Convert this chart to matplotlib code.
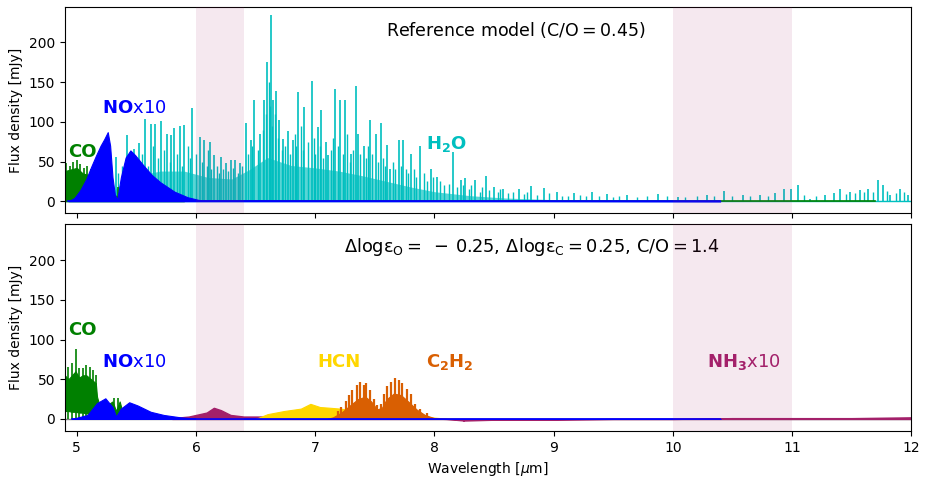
import numpy as np
import matplotlib.pyplot as plt

# színek
c_h2o = "c"
c_co = "g"
c_no = "b"
c_hcn = "gold"
c_c2h2 = "#d95f02"
c_nh3 = "#a3206a"

# ---- felső panel: referencia modell ----
# erős H2O vonalak (hullámhossz [um], csúcs [mJy])
h2o_wl = [5.33, 5.42, 5.48, 5.52, 5.57, 5.62, 5.66, 5.71, 5.76, 5.79, 5.82, 5.87, 5.90,
          5.97, 6.03, 6.07, 6.12, 6.15, 6.21, 6.25, 6.29, 6.33, 6.37, 6.42, 6.46, 6.49,
          6.54, 6.57, 6.60, 6.63, 6.65, 6.67, 6.70, 6.73, 6.77, 6.81, 6.86, 6.91, 6.97,
          7.02, 7.05, 7.09, 7.11, 7.17, 7.21, 7.25, 7.30, 7.34, 7.36, 7.41, 7.46, 7.51,
          7.55, 7.60, 7.63, 7.70, 7.74, 7.80, 7.88, 7.97, 8.02, 8.16, 8.22, 8.26,
          8.34, 8.43, 8.50, 8.58, 8.71, 8.81, 8.92, 9.03, 9.17, 9.32, 9.45, 9.62,
          9.88, 10.04, 10.29, 10.43, 10.59, 10.73, 10.86, 10.93, 10.99, 11.05, 11.15,
          11.28, 11.35, 11.40, 11.49, 11.57, 11.64, 11.72, 11.76, 11.82, 11.91, 11.97]
h2o_flux = [56, 84, 66, 73, 103, 97, 97, 101, 85, 83, 92, 95, 96,
            118, 81, 77, 75, 58, 56, 48, 52, 52, 48, 99, 77, 127,
            85, 128, 175, 235, 128, 139, 102, 79, 88, 77, 138, 119, 151,
            94, 115, 75, 58, 141, 128, 128, 60, 145, 85, 69, 102, 85,
            98, 71, 41, 77, 77, 60, 69, 41, 31, 62, 27, 29,
            27, 32, 18, 16, 16, 19, 17, 12, 10.5, 12, 9, 8,
            9, 5, 8, 13, 8, 8, 10.5, 15, 15, 20, 3,
            8, 10, 15, 12, 14, 16, 27, 20, 8, 15, 8]
# gyengébb H2O vonalak
h2o2_wl = [4.92, 4.97, 5.03, 5.08, 5.14, 5.19, 5.24, 5.29,
           5.35, 5.38, 5.45, 5.50, 5.55, 5.60, 5.64, 5.68, 5.73, 5.78, 5.84, 5.88, 5.93,
           5.95, 6.00, 6.05, 6.09, 6.10, 6.13, 6.18, 6.19, 6.23, 6.27, 6.31, 6.35, 6.39,
           6.44, 6.47, 6.52, 6.56, 6.59, 6.61, 6.62, 6.64, 6.66, 6.69, 6.72, 6.75, 6.79,
           6.83, 6.84, 6.88, 6.90, 6.94, 6.99, 7.00, 7.04, 7.07, 7.13, 7.15, 7.19, 7.23,
           7.27, 7.29, 7.32, 7.38, 7.43, 7.44, 7.48, 7.53, 7.57, 7.59, 7.65, 7.67, 7.72,
           7.76, 7.78, 7.83, 7.85, 7.91, 7.94, 7.99, 8.05, 8.08, 8.12, 8.19, 8.24, 8.29,
           8.31, 8.38, 8.40, 8.46, 8.53, 8.55, 8.62, 8.66, 8.75, 8.78, 8.86, 8.96, 9.07,
           9.12, 9.22, 9.27, 9.38, 9.50, 9.55, 9.70, 9.78, 9.95, 10.1, 10.2, 10.35, 10.5,
           10.65, 10.8, 11.1, 11.2, 11.45, 11.53, 11.6, 11.68, 11.8, 11.87, 11.94]
h2o2_flux = [6, 8, 5, 9, 7, 10, 12, 15,
             35, 45, 50, 40, 60, 45, 70, 55, 65, 50, 60, 45, 70,
             55, 60, 50, 45, 65, 40, 45, 35, 40, 38, 42, 35, 44,
             60, 70, 65, 90, 110, 150, 120, 95, 110, 80, 65, 70, 60,
             85, 70, 95, 65, 75, 80, 60, 70, 55, 65, 80, 70, 60,
             85, 50, 65, 60, 55, 70, 60, 50, 55, 45, 50, 40, 45,
             40, 35, 40, 30, 35, 25, 30, 25, 20, 22, 18, 20, 15,
             20, 12, 18, 14, 12, 16, 10, 12, 9, 12, 8, 10, 7,
             6, 8, 6, 7, 5, 6, 5, 6, 6, 5, 6, 7, 6,
             6, 7, 8, 7, 9, 10, 11, 12, 13, 10, 11]
# a sűrű, kis H2O vonalak burkolója
h2o_bg_wl = [4.9, 5.2, 5.3, 5.4, 5.5, 5.7, 5.9, 6.1, 6.3, 6.45, 6.6, 6.7, 6.8, 7.0, 7.2, 7.4,
             7.6, 7.8, 8.0, 8.3, 8.6, 9.0, 10.0, 11.0, 12.0]
h2o_bg_flux = [3, 5, 12, 25, 32, 38, 38, 30, 28, 40, 55, 50, 45, 42, 38, 32,
               25, 18, 12, 7, 4, 2, 1, 1, 1]

# CO (felső)
co_top_wl = [4.9, 4.95, 5.0, 5.05, 5.1, 5.15, 5.2, 5.25, 5.3, 5.4, 5.6, 5.9]
co_top_hi = [38, 40, 42, 35, 33, 30, 26, 18, 8, 4, 2, 0]
co_top_line_wl = [4.91, 4.94, 4.97, 5.00, 5.03, 5.06, 5.09, 5.12, 5.15, 5.18, 5.21, 5.35, 5.38, 5.5]
co_top_line = [48, 45, 50, 52, 47, 42, 44, 40, 38, 36, 30, 18, 15, 8]

# NO x10 (felső)
no_top_wl = [4.93, 4.98, 5.03, 5.08, 5.12, 5.16, 5.20, 5.23, 5.26, 5.28, 5.30, 5.32, 5.34,
             5.37, 5.41, 5.45, 5.49, 5.56, 5.63, 5.70, 5.82, 5.93, 6.04, 10.4]
no_top_flux = [0, 4, 14, 28, 43, 57, 70, 78, 87, 70, 30, 8, 2,
               30, 55, 64, 58, 45, 33, 24, 12, 5, 1, 0]

# ---- alsó panel: C/O = 1.4 ----
co_bot_wl = [4.9, 4.93, 4.96, 4.99, 5.02, 5.05, 5.08, 5.12, 5.16, 5.17, 5.2, 5.3, 5.33, 5.36, 5.4]
co_bot_hi = [55, 50, 55, 60, 52, 55, 55, 50, 45, 28, 12, 22, 10, 22, 0]
co_bot_lo = [10, 10, 9, 9, 8, 8, 7, 6, 5, 4, 3, 3, 2, 2, 0]
co_bot_line_wl = [4.905, 4.93, 4.96, 4.99, 5.02, 5.05, 5.08, 5.11, 5.14, 5.16, 5.31, 5.35]
co_bot_line = [68, 66, 70, 88, 64, 64, 68, 66, 62, 55, 26, 26]

no_bot_wl = [4.96, 5.09, 5.17, 5.24, 5.30, 5.33, 5.37, 5.44, 5.51, 5.62, 5.73, 5.87, 6.04, 10.4]
no_bot_flux = [0, 5, 20, 26, 15, 3, 13, 21, 17, 9, 5, 2, 0, 0]

hcn_wl = [6.5, 6.60, 6.74, 6.88, 6.96, 7.04, 7.13, 7.21, 7.32, 7.44, 7.55, 7.66, 7.80, 7.97, 8.05, 8.2]
hcn_flux = [0, 6, 10, 13, 19, 15, 14, 13, 11, 17, 9, 7, 5, 2, 1, 0]

c2h2_wl = [7.19, 7.22, 7.255, 7.28, 7.31, 7.35, 7.38, 7.41, 7.43, 7.46, 7.49, 7.52,
           7.55, 7.58, 7.60, 7.64, 7.67, 7.70, 7.73, 7.77, 7.80, 7.84, 7.88, 7.94]
c2h2_flux = [10, 15, 22, 30, 36, 43, 46, 43, 45, 36, 25, 17,
             19, 31, 42, 47, 51, 49, 45, 38, 32, 19, 13, 7]
c2h2_env_wl = [7.1, 7.15, 7.22, 7.3, 7.36, 7.42, 7.47, 7.52, 7.56, 7.6, 7.66, 7.72, 7.78,
               7.85, 7.92, 8.0, 8.1]
c2h2_env = [0, 2, 8, 18, 25, 28, 22, 12, 14, 25, 32, 30, 22, 12, 5, 1, 0]

nh3_wl = [5.8, 5.94, 6.09, 6.15, 6.21, 6.29, 6.40, 6.6, 6.8, 7.0, 7.3, 7.6, 7.9, 8.1,
          8.25, 8.5, 9.0, 9.5, 10.0, 10.5, 11.0, 11.5, 12.0]
nh3_flux = [1, 3, 8, 14, 11, 5, 3, 3, 4, 4, 3, 2, 1, 0,
            -2, -1, -1, 0, 0, 1, 1, 1, 2]
nh3_spike_wl = [6.72, 6.8, 6.87, 6.93, 7.0, 7.08, 7.15, 7.22, 7.28, 7.5, 8.25]
nh3_spike = [8, 10, 7, 10, 9, 7, 9, 6, 7, 5, -4]

bands = [(6.0, 6.4), (10.0, 11.0)]

fig, (ax1, ax2) = plt.subplots(2, 1, sharex=True, figsize=(9.26, 4.83), dpi=100)
fig.subplots_adjust(left=0.070, right=0.984, top=0.986, bottom=0.108, hspace=0.055)

# felső
ax1.fill_between(h2o_bg_wl, 0, h2o_bg_flux, color=c_h2o, lw=0, alpha=0.65, zorder=1)
ax1.vlines(h2o2_wl, 0, h2o2_flux, color=c_h2o, lw=1, zorder=1)
ax1.vlines(h2o_wl, 0, h2o_flux, color=c_h2o, lw=1.2, zorder=1)
ax1.plot([4.9, 12], [0, 0], color=c_h2o, lw=1, zorder=1)
ax1.fill_between(co_top_wl, 0, co_top_hi, color=c_co, lw=0.8, zorder=2)
ax1.vlines(co_top_line_wl, 0, co_top_line, color=c_co, lw=1.2, zorder=2)
ax1.plot([5.9, 11.7], [0, 0], color=c_co, lw=1.2, zorder=2)
ax1.fill_between(no_top_wl, 0, no_top_flux, color=c_no, lw=0.8, zorder=3)
ax1.plot([4.93, 10.4], [0, 0], color=c_no, lw=1.2, zorder=3)

ax1.text(8.68, 216, r"Reference model (C/O$=$0.45)", ha="center", va="center", fontsize=12.5)
ax1.text(4.93, 62, "CO", color=c_co, fontsize=13, fontweight="bold", va="center")
ax1.text(5.21, 117, r"$\mathbf{NO}$x10", color=c_no, fontsize=13, va="center")
ax1.text(7.93, 72, r"$\mathbf{H_2O}$", color=c_h2o, fontsize=13, va="center")

# alsó
ax2.plot([4.9, 12], [0, 0], color="gray", lw=1, zorder=1)
ax2.fill_between(co_bot_wl, co_bot_lo, co_bot_hi, color=c_co, lw=0.8, zorder=2)
ax2.vlines(co_bot_line_wl, 0, co_bot_line, color=c_co, lw=1.2, zorder=2)
ax2.fill_between(nh3_wl, 0, nh3_flux, color=c_nh3, lw=1, zorder=2)
ax2.vlines(nh3_spike_wl, 0, nh3_spike, color=c_nh3, lw=1.2, zorder=2)
ax2.fill_between(hcn_wl, 0, hcn_flux, color=c_hcn, lw=0.8, zorder=3)
ax2.fill_between(c2h2_env_wl, 0, c2h2_env, color=c_c2h2, lw=0.8, zorder=4)
ax2.vlines(c2h2_wl, 0, c2h2_flux, color=c_c2h2, lw=1.6, zorder=4)
ax2.fill_between(no_bot_wl, 0, no_bot_flux, color=c_no, lw=0.8, zorder=5)
ax2.plot([4.96, 10.4], [0, 0], color=c_no, lw=1.2, zorder=5)

ax2.text(8.82, 216,
         r"$\Delta{\rm log}\mathrm{\varepsilon}_{\rm O}=\;-\:0.25,\,\Delta{\rm log}\mathrm{\varepsilon}_{\rm C}=0.25,\,{\rm C/O}=1.4$",
         ha="center", va="center", fontsize=12.8)
ax2.text(4.93, 112, "CO", color=c_co, fontsize=13, fontweight="bold", va="center")
ax2.text(5.21, 72, r"$\mathbf{NO}$x10", color=c_no, fontsize=13, va="center")
ax2.text(7.02, 72, "HCN", color=c_hcn, fontsize=13, fontweight="bold", va="center")
ax2.text(7.93, 72, r"$\mathbf{C_2H_2}$", color=c_c2h2, fontsize=13, va="center")
ax2.text(10.29, 72, r"$\mathbf{NH_3}$x10", color=c_nh3, fontsize=13, va="center")

for ax in (ax1, ax2):
    for lo, hi in bands:
        ax.axvspan(lo, hi, color=c_nh3, alpha=0.1, lw=0, zorder=6)
    ax.set_ylim(-15, 245)
    ax.set_yticks([0, 50, 100, 150, 200])
    ax.set_ylabel("Flux density [mJy]")
ax2.set_xlim(4.9, 12)
ax2.set_xlabel(r"Wavelength [$\mu$m]")

plt.savefig("out.png")
plt.close()
